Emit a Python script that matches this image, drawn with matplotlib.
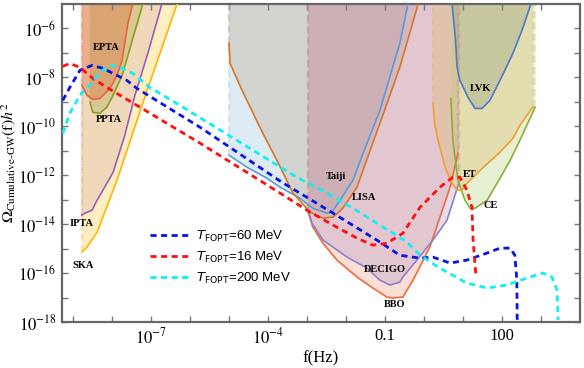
import numpy as np
import matplotlib

matplotlib.use("Agg")

import matplotlib.pyplot as plt
from matplotlib.font_manager import FontProperties

plt.rcParams["font.family"] = ["Liberation Serif", "DejaVu Serif"]
plt.rcParams["mathtext.fontset"] = "stix"

# sensitivity curves, log10(f / Hz) and log10(Omega h^2)
epta_lf = [-8.77, -8.64, -8.49, -8.31, -8.05, -7.87, -7.74, -7.67, -7.59, -7.49, -7.46]
epta_lo = [-8.33, -8.73, -8.90, -8.86, -8.45, -7.92, -7.31, -6.61, -5.80, -5.14, -5.0]
ppta_lf = [-8.56, -8.49, -8.31, -8.13, -7.97, -7.74, -7.59, -7.46, -7.33, -7.21]
ppta_lo = [-9.02, -9.43, -9.47, -9.22, -8.73, -7.92, -7.10, -6.37, -5.67, -5.0]
ipta_lf = [-8.77, -8.69, -8.51, -8.38, -8.23, -7.97, -7.67, -7.41, -7.08, -6.72]
ipta_lo = [-13.63, -13.55, -13.43, -13.02, -12.61, -11.88, -10.37, -8.73, -7.02, -5.0]
ska_lf = [-8.77, -8.64, -8.38, -7.87, -7.08, -6.33]
ska_lo = [-15.14, -14.94, -14.33, -12.20, -8.45, -5.0]

taiji_lf = [-5.0, -4.54, -4.03, -3.69, -3.18, -2.85, -2.49, -2.36, -2.15, -1.82, -1.56, -1.13, -0.62, -0.41]
taiji_lo = [-11.18, -11.67, -12.12, -12.49, -12.94, -13.35, -13.55, -13.51, -13.02, -12.20, -11.10, -9.35, -6.61, -5.0]
lisa_lf = [-5.0, -4.97, -4.72, -4.54, -4.13, -3.77, -3.36, -2.92, -2.59, -2.33, -2.08, -1.72, -1.38, -1.13, -0.62, -0.15]
lisa_lo = [-6.61, -7.43, -8.33, -8.94, -10.29, -11.39, -12.73, -13.51, -13.76, -13.71, -13.35, -12.49, -10.98, -9.88, -7.59, -5.0]
decigo_lf = [-2.97, -2.87, -2.59, -1.97, -1.46, -1.13, -0.87, -0.62, -0.54, -0.18, 0.23, 0.59, 0.90]
decigo_lo = [-13.43, -13.96, -14.65, -15.35, -15.80, -16.29, -16.49, -16.37, -16.16, -15.47, -14.65, -13.84, -12.29]
bbo_lf = [-2.97, -2.85, -2.59, -2.23, -1.72, -1.31, -0.95, -0.80, -0.54, -0.28, 0.15, 0.67, 0.87]
bbo_lo = [-13.51, -14.12, -14.78, -15.47, -16.16, -16.61, -16.98, -17.02, -16.98, -16.29, -14.94, -12.49, -11.10]

lvk_lf = [0.72, 0.80, 0.85, 0.92, 1.13, 1.31, 1.49, 1.69, 1.95, 2.28, 2.54, 2.74]
lvk_lo = [-5.0, -6.29, -7.59, -8.12, -8.82, -9.27, -9.27, -8.94, -8.12, -7.02, -5.96, -5.0]
et_lf = [0.23, 0.28, 0.36, 0.54, 0.72, 0.85, 0.97, 1.10, 1.44, 1.95, 2.28, 2.46, 2.79]
et_lo = [-9.06, -9.96, -10.57, -11.67, -12.33, -12.61, -12.61, -12.33, -11.80, -11.06, -10.49, -9.96, -9.22]
ce_lf = [0.69, 0.74, 0.87, 1.05, 1.18, 1.31, 1.62, 1.95, 2.21, 2.46, 2.85]
ce_lo = [-8.86, -10.57, -12.20, -13.02, -13.35, -13.35, -13.02, -12.12, -11.39, -10.57, -9.22]

# cumulative GW spectra
t60_lf = [-9.26, -9.08, -8.82, -8.51, -8.23, -7.62, -7.36, -5.74, -3.64, -2.33, -1.13, -0.62, -0.10, 0.23,
          0.67, 1.10, 1.62, 1.95, 2.21, 2.33, 2.38, 2.39]
t60_lo = [-8.94, -8.41, -7.71, -7.51, -7.63, -8.12, -8.45, -10.04, -12.29, -13.55, -14.73, -15.27, -15.39, -15.35,
          -15.59, -15.47, -15.18, -14.98, -14.98, -15.27, -16.29, -17.92]
t16_lf = [-9.26, -9.08, -8.82, -8.49, -8.13, -5.74, -3.69, -3.0, -2.33, -1.72, -1.31, -0.95, -0.54, -0.10,
          0.41, 0.74, 0.92, 1.10, 1.23, 1.26, 1.33]
t16_lo = [-7.55, -7.43, -7.59, -8.04, -8.41, -10.69, -12.73, -13.43, -14.04, -14.57, -14.86, -14.78, -14.37, -13.31,
          -12.49, -12.08, -12.08, -12.61, -13.31, -14.65, -16.08]
t200_lf = [-9.26, -9.08, -8.82, -8.56, -8.31, -8.05, -7.79, -7.46, -7.03, -6.26, -3.26, -2.49, -1.82, -1.13,
           -0.44, -0.10, 0.41, 1.10, 1.62, 2.13, 2.64, 3.05, 3.28, 3.41, 3.44]
t200_lo = [-10.29, -9.47, -8.73, -8.29, -7.80, -7.51, -7.59, -7.84, -8.41, -9.14, -12.08, -12.73, -13.35, -14.04,
           -14.73, -15.27, -15.80, -16.41, -16.61, -16.49, -16.20, -16.0, -16.16, -16.69, -17.92]

legend_labels = [r"$T_{\rm FOPT}$=60 MeV", r"$T_{\rm FOPT}$=16 MeV", r"$T_{\rm FOPT}$=200 MeV"]

XMIN, XMAX = 10 ** -9.28, 10 ** 4.0
YMIN, YMAX = 1e-18, 1e-5

fig = plt.figure(figsize=(5.84, 3.68), dpi=100)
ax = fig.add_axes([62 / 584, 46 / 368, 518 / 584, 318 / 368])
ax.set_xscale("log")
ax.set_yscale("log")


def region(lf, lo, fill, alpha, line, edge):
    xs = 10 ** np.array(lf)
    ys = 10 ** np.array(lo)
    ax.fill(np.r_[xs, xs[-1], xs[0]], np.r_[ys, YMAX, YMAX], color=fill, alpha=alpha, lw=0, zorder=1)
    for x, y in ((xs[0], ys[0]), (xs[-1], ys[-1])):
        if y < YMAX * 0.95:
            ax.plot([x, x], [y, YMAX], ls=(0, (3, 2)), color=edge, alpha=0.4, lw=1.6, zorder=2)
    ax.plot(xs, ys, color=line, lw=1.2, zorder=3)


region(ska_lf, ska_lo, "#ffc830", 0.30, "#ffb400", "#f0b070")
region(ipta_lf, ipta_lo, "#a060a0", 0.15, "#9b5fb5", "#e0a0a0")
region(ppta_lf, ppta_lo, "#90a020", 0.25, "#8c9c1c", "#c8b070")
region(epta_lf, epta_lo, "#e05020", 0.30, "#f0603c", "#e89080")

region(taiji_lf, taiji_lo, "#a0c8e0", 0.35, "#5b9bd5", "#a8c8e0")
region(lisa_lf, lisa_lo, "#c6b39a", 0.40, "#d2782a", "#c0b0a0")
region(bbo_lf, bbo_lo, "#f08060", 0.25, "#f06a3c", "#c09090")
region(decigo_lf, decigo_lo, "#ae92c0", 0.30, "#8f80c8", "#c09090")

region(ce_lf, ce_lo, "#b0d070", 0.30, "#88b03a", "#c8dca0")
region(et_lf, et_lo, "#debb6d", 0.35, "#f0a030", "#e0b080")
region(lvk_lf, lvk_lo, "#949f82", 0.35, "#4a7cc8", "#d0c8a0")

dash = (0, (2.2, 1.6))
ax.plot(10 ** np.array(t60_lf), 10 ** np.array(t60_lo), color="#0a14e6", lw=2.0, ls=dash, zorder=4,
        label=legend_labels[0])
ax.plot(10 ** np.array(t16_lf), 10 ** np.array(t16_lo), color="#ff1010", lw=2.0, ls=dash, zorder=4,
        label=legend_labels[1])
ax.plot(10 ** np.array(t200_lf), 10 ** np.array(t200_lo), color="#10f0f0", lw=2.0, ls=dash, zorder=4,
        label=legend_labels[2])

names = ["EPTA", "PPTA", "IPTA", "SKA", "Taiji", "LISA", "DECIGO", "BBO", "LVK", "ET", "CE"]
name_lf = [-8.15, -8.08, -8.77, -8.74, -2.26, -1.54, -1.0, -0.74, 1.44, 1.18, 1.72]
name_lo = [-6.78, -9.71, -13.96, -15.67, -12.04, -12.90, -15.84, -17.27, -8.45, -11.96, -13.22]
for name, lf, lo in zip(names, name_lf, name_lo):
    ax.text(10 ** lf, 10 ** lo, name, ha="center", va="center", fontsize=7.5, fontweight="bold", zorder=5)

ax.set_xlim(XMIN, XMAX)
ax.set_ylim(YMIN, YMAX)

xt = 10.0 ** np.arange(-9, 4)
ax.set_xticks(xt)
ax.set_xticklabels(["" if e % 3 != 2 else {-7: r"$10^{-7}$", -4: r"$10^{-4}$", -1: "0.1", 2: "100"}[e]
                    for e in range(-9, 4)])
yt = 10.0 ** np.arange(-18, -5)
ax.set_yticks(yt)
ax.set_yticklabels([rf"$10^{{{e}}}$" if e % 2 == 0 else "" for e in range(-18, -5)])
ax.minorticks_off()
ax.tick_params(which="both", direction="in", top=True, right=True, length=4, width=1.0,
               color="#777777", labelsize=12, pad=4)

for sp in ax.spines.values():
    sp.set_color("#666666")
    sp.set_linewidth(1.6)

ax.set_xlabel("f(Hz)", fontsize=12, labelpad=2)
ax.set_ylabel(r"$\Omega_{\rm Cumulative\text{-}GW}{\rm (f)}h^2$", fontsize=11.5)
ax.yaxis.set_label_coords(-0.084, 0.5)

leg_font = FontProperties(family="Liberation Sans", size=9.5, math_fontfamily="dejavusans")
ax.legend(loc="upper left", bbox_to_anchor=(0.16, 0.31), frameon=False, prop=leg_font,
          handlelength=2.9, handletextpad=0.6, labelspacing=0.45, borderaxespad=0)

fig.savefig("out.png", dpi=100)
